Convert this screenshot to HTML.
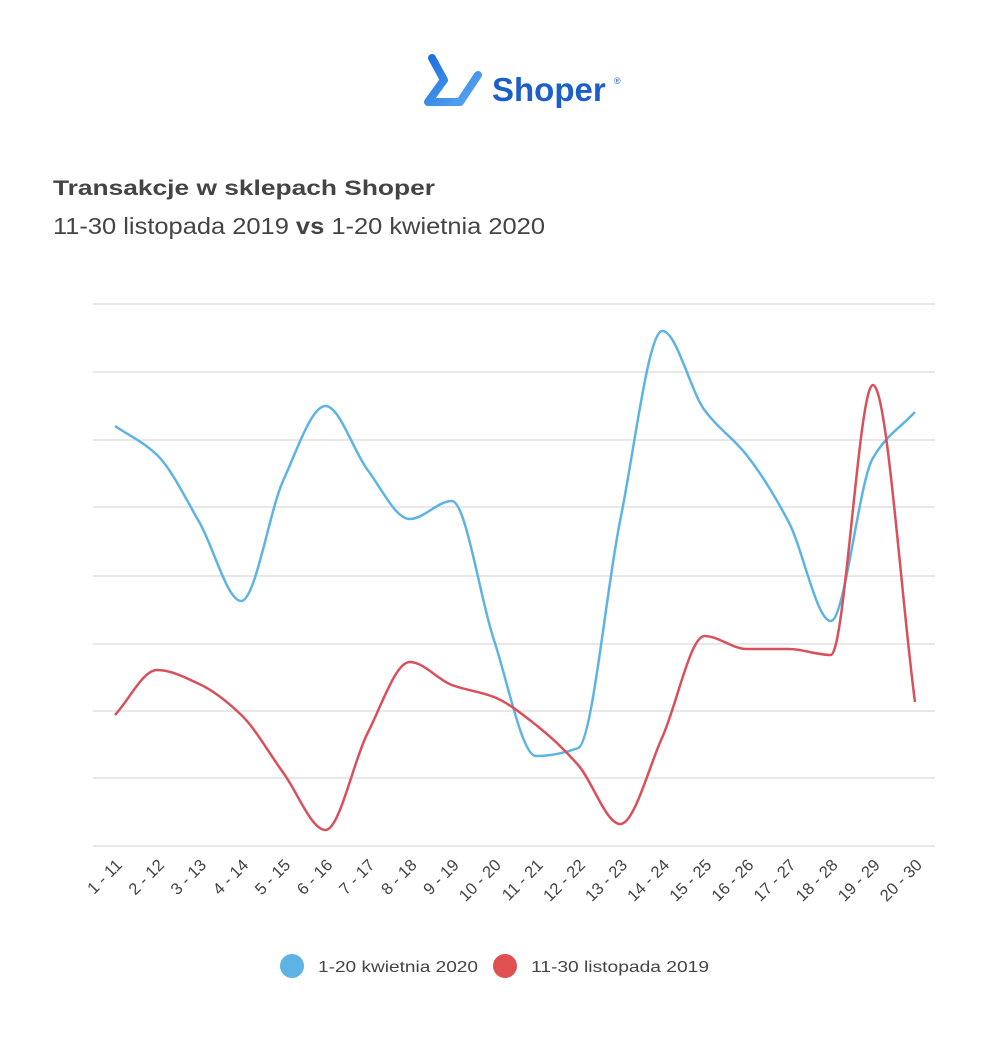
<!DOCTYPE html>
<html><head><meta charset="utf-8"><style>
body{margin:0;background:#fff;width:1004px;height:1040px;overflow:hidden;font-family:"Liberation Sans",sans-serif}
</style></head><body>
<svg width="1004" height="1040" viewBox="0 0 1004 1040" xmlns="http://www.w3.org/2000/svg">
<defs><linearGradient id="g" x1="0" y1="0" x2="1" y2="1"><stop offset="0" stop-color="#1e6fe0"/><stop offset="1" stop-color="#5aa8f0"/></linearGradient></defs>
<path d="M432 58 L444 80 L428 102 L460 102 L478 75" fill="none" stroke="url(#g)" stroke-width="8" stroke-linecap="round" stroke-linejoin="round"/>
<text x="492" y="101" font-size="33" font-weight="bold" fill="#1c5fc8">Shoper</text>
<text x="614" y="84" font-size="9" fill="#1c5fc8">®</text>
<text x="53" y="195" font-size="21" font-weight="bold" fill="#444" textLength="382" lengthAdjust="spacingAndGlyphs">Transakcje w sklepach Shoper</text>
<text x="53" y="234" font-size="23" fill="#444" textLength="492" lengthAdjust="spacingAndGlyphs">11-30 listopada 2019 <tspan font-weight="bold">vs</tspan> 1-20 kwietnia 2020</text>
<g stroke="#d9d9d9" stroke-width="1.3">
<line x1="93" x2="935" y1="304" y2="304"/><line x1="93" x2="935" y1="372" y2="372"/><line x1="93" x2="935" y1="440" y2="440"/><line x1="93" x2="935" y1="507" y2="507"/><line x1="93" x2="935" y1="576" y2="576"/><line x1="93" x2="935" y1="644" y2="644"/><line x1="93" x2="935" y1="711" y2="711"/><line x1="93" x2="935" y1="778" y2="778"/><line x1="93" x2="935" y1="846" y2="846"/>
</g>
<g id="lines"></g>
<g id="labels" font-size="16.5" fill="#444"></g>
<circle cx="292" cy="966" r="12" fill="#5db4e4"/>
<text x="318" y="972" font-size="16" fill="#444" textLength="160" lengthAdjust="spacingAndGlyphs">1-20 kwietnia 2020</text>
<circle cx="505" cy="966" r="12" fill="#e05050"/>
<text x="531" y="972" font-size="16" fill="#444" textLength="178" lengthAdjust="spacingAndGlyphs">11-30 listopada 2019</text>
</svg>
<script>
var blue=[426,455,522,601,480,406,470,519,501,640,756,748,520,331,410,455,522,621,458,412];
var red=[715,670,684,715,773,830,733,662,685,697,725,765,824,737,636,649,649,655,385,702];
var labels=["1 - 11","2 - 12","3 - 13","4 - 14","5 - 15","6 - 16","7 - 17","8 - 18","9 - 19","10 - 20","11 - 21","12 - 22","13 - 23","14 - 24","15 - 25","16 - 26","17 - 27","18 - 28","19 - 29","20 - 30"];
var h=800/19;
function X(i){return 115+i*h;}
function path(v){var n=v.length,d=[],m=[];
for(var i=0;i<n-1;i++)d.push((v[i+1]-v[i])/h);
for(var i=0;i<n;i++){if(i==0)m.push(d[0]);else if(i==n-1)m.push(d[n-2]);else{
if(d[i-1]*d[i]<=0)m.push(0);else{var a=d[i-1],b=d[i];m.push(2/(1/a+1/b));}}}
var s="M"+X(0)+" "+v[0];
for(var i=0;i<n-1;i++){s+=" C"+(X(i)+h/3)+" "+(v[i]+m[i]*h/3)+" "+(X(i+1)-h/3)+" "+(v[i+1]-m[i+1]*h/3)+" "+X(i+1)+" "+v[i+1];}
return s;}
var ns="http://www.w3.org/2000/svg",g=document.getElementById("lines");
[[blue,"#5db4e4"],[red,"#d9505a"]].forEach(function(s){var e=document.createElementNS(ns,"path");e.setAttribute("d",path(s[0]));e.setAttribute("fill","none");e.setAttribute("stroke",s[1]);e.setAttribute("stroke-width","2.5");g.appendChild(e);});
var lg=document.getElementById("labels");
labels.forEach(function(l,i){var t=document.createElementNS(ns,"text");var x=X(i)+8,y=866;t.setAttribute("x",x);t.setAttribute("y",y);t.setAttribute("text-anchor","end");t.setAttribute("transform","rotate(-45 "+x+" "+y+")");t.textContent=l;lg.appendChild(t);});
</script>
</body></html>
